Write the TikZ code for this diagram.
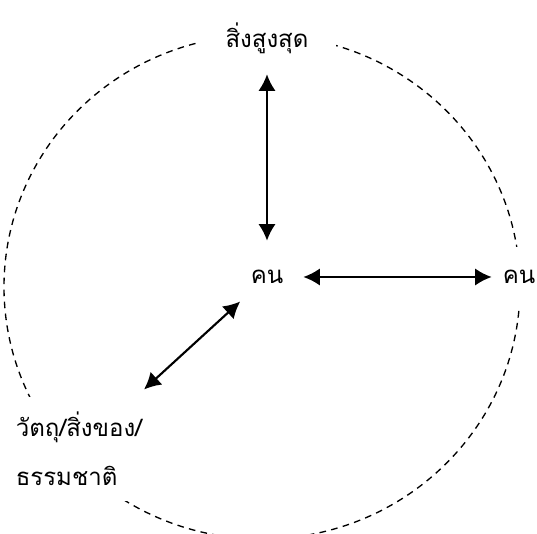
\documentclass[tikz,border=0pt]{standalone}
\usepackage{fontspec}
\newfontfamily\thaifont[Script=Thai]{Loma}
\usepackage{tikz}
\usetikzlibrary{arrows.meta, positioning}

\begin{document}
\begin{tikzpicture}[
    x=0.75pt, y=-0.75pt,
    font=\thaifont\fontsize{18}{22}\selectfont,
    label_box/.style={fill=white, inner sep=0pt},
    centre_node/.style={circle, minimum size=54pt, inner sep=0pt},
    link/.style={{Latex[length=12.5pt,width=13pt]}-{Latex[length=12.5pt,width=13pt]}, line width=1.6pt},
    ring/.style={dash pattern=on 5pt off 4pt, line width=1pt}
]
\useasboundingbox (0,0) rectangle (537,534);

% OUTER RING
\draw[ring] (262,287) ellipse [x radius=258, y radius=252];

% NODES
\node[label_box, minimum width=102.75pt, minimum height=54pt] (supreme) at (267,38) {สิ่งสูงสุด};
\node[centre_node] (self) at (267,277) {คน};
\node[label_box, minimum width=40.5pt, minimum height=45pt] (other) at (519,277) {คน};
\node[label_box, align=left, minimum width=118.5pt, minimum height=78pt,
      font=\thaifont\fontsize{18}{36.75}\selectfont] (things) at (79,449) {วัตถุ/สิ่งของ/\\ธรรมชาติ};

% LINKS
\draw[link] (self) -- (supreme);
\draw[link] (self) -- (other);
\draw[link, shorten >=8pt] (self) -- (things);

\end{tikzpicture}
\end{document}
